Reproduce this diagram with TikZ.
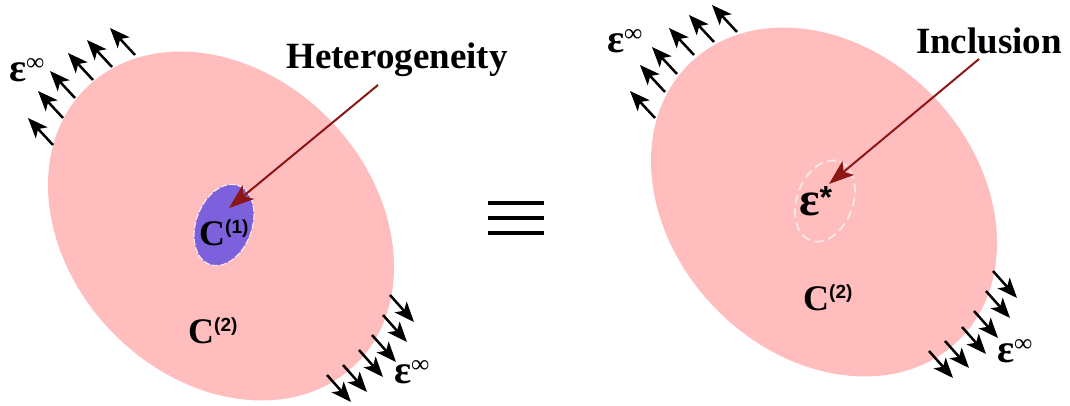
\documentclass[tikz,border=0pt]{standalone}
\usepackage{fontspec}
\setmainfont{Liberation Serif}
\newfontfamily\supsans{Liberation Sans}
\usetikzlibrary{arrows.meta}
\definecolor{matrixpink}{RGB}{255,189,190}
\definecolor{inclpurple}{RGB}{124,96,220}
\definecolor{rimcol}{RGB}{250,232,232}
\definecolor{pointer}{RGB}{140,22,22}
\newcommand\Clabel[1]{{\fontsize{36}{36}\selectfont\bfseries C}\raisebox{12pt}{\supsans\fontsize{19}{19}\selectfont\bfseries (#1)}}
\newcommand\epsinf{{\fontsize{40}{40}\selectfont\bfseries ε}\raisebox{11pt}{\fontsize{25}{25}\selectfont\bfseries ∞}}
\newcommand\epsstar{{\fontsize{48}{48}\selectfont\bfseries ε}\raisebox{7pt}{\supsans\fontsize{32}{32}\selectfont\bfseries *}}
\tikzset{
  strain/.style={line width=2.5pt, -{Stealth[length=20pt,width=16pt,inset=5pt]}},
  pointerarrow/.style={draw=pointer, line width=2pt, -{Stealth[length=25pt,width=18pt,inset=6pt]}},
  bigtext/.style={font=\fontsize{37}{40}\selectfont\bfseries, inner sep=0pt, anchor=base},
  sym/.style={inner sep=0pt, anchor=base west},
  matrixbody/.style={fill=matrixpink},
  heterobody/.style={fill=inclpurple, draw=rimcol, line width=1.2pt, dash pattern=on 7pt off 1.5pt},
  inclrim/.style={draw=rimcol, line width=1.8pt, dash pattern=on 9pt off 5pt},
  eqbar/.style={line width=4pt}
}
\begin{document}
\begin{tikzpicture}[x=1pt,y=-1pt]
\useasboundingbox (0,0) rectangle (1070,405);
% ---------- left: heterogeneity ----------
\fill[matrixbody, rotate around={-46:(221,226)}] (221,226) ellipse [x radius=193, y radius=152];
\draw[heterobody, rotate around={70:(224,225)}] (224,225) ellipse [x radius=42, y radius=28];
\foreach \px/\py in {53/145, 63/118, 75/98, 93/80, 112/67, 135/55}
  \draw[strain] (\px,\py) -- ++(-25,-27);
\foreach \px/\py in {390/295, 383/315, 372/335, 359/350, 343/365, 327/375}
  \draw[strain] (\px,\py) -- ++(24,27);
\node[sym] (einfLT) at (9,81) {\epsinf};
\node[sym] (einfLB) at (394,383) {\epsinf};
\node[sym] (c1) at (199,245) {\Clabel{1}};
\node[sym] (c2L) at (188,343) {\Clabel{2}};
\node[bigtext] (het) at (397,68) {Heterogeneity};
\coordinate (hetFrom) at (378,85);
\coordinate (hetTo) at (229,208);
\draw[pointerarrow] (hetFrom) -- (hetTo);
% ---------- equivalence ----------
\draw[eqbar] (488,203) -- (544,203);
\draw[eqbar] (488,218) -- (544,218);
\draw[eqbar] (488,233) -- (544,233);
% ---------- right: inclusion ----------
\fill[matrixbody, rotate around={-46:(824,202)}] (824,202) ellipse [x radius=193, y radius=152];
\draw[inclrim, rotate around={70:(825,201)}] (825,201) ellipse [x radius=42, y radius=28];
\foreach \px/\py in {655/118, 665/92, 677/74, 694/55, 714/42, 737/32}
  \draw[strain] (\px,\py) -- ++(-25,-27);
\foreach \px/\py in {993/271, 986/291, 974/311, 962/327, 945/341, 929/351}
  \draw[strain] (\px,\py) -- ++(24,27);
\node[sym] (einfRT) at (607,52) {\epsinf};
\node[sym] (einfRB) at (997,362) {\epsinf};
\node[sym] (estar) at (799,215) {\epsstar};
\node[sym] (c2R) at (803,310) {\Clabel{2}};
\node[bigtext] (incl) at (989,53) {Inclusion};
\coordinate (inclFrom) at (979,59);
\coordinate (inclTo) at (829,184);
\draw[pointerarrow] (inclFrom) -- (inclTo);
\end{tikzpicture}
\end{document}
